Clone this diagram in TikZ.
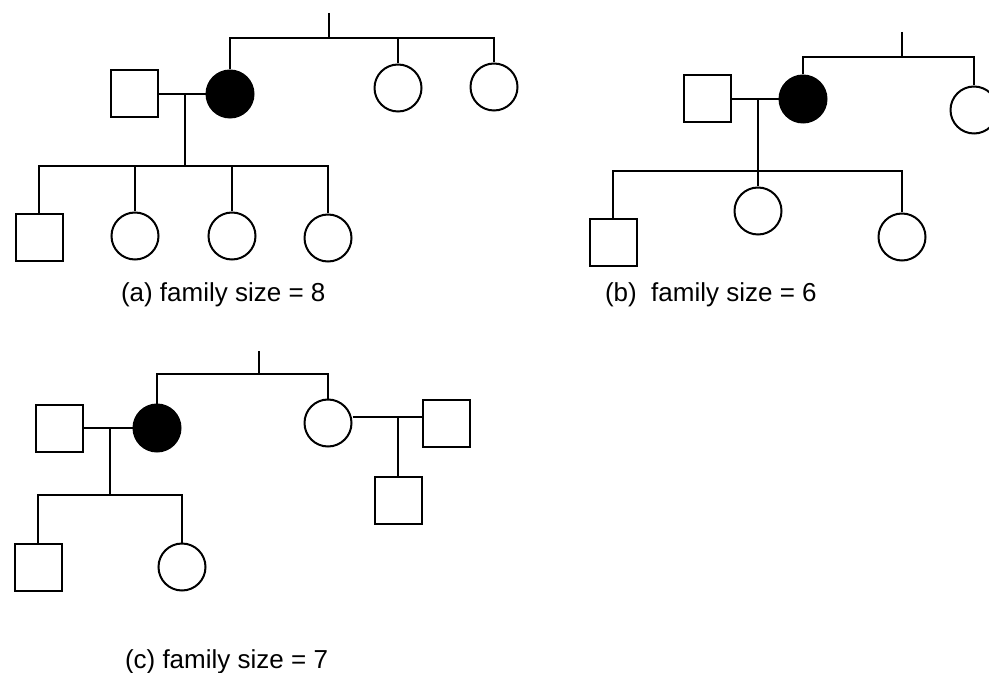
\documentclass[tikz,border=0pt]{standalone}
\usepackage{fontspec}
\setmainfont{Liberation Sans}

\begin{document}
\begin{tikzpicture}[
        x=0.5pt, y=-0.5pt,
        line width=1pt,
        male/.style={draw, rectangle, minimum size=23.5pt, inner sep=0pt},
        female/.style={draw, circle, minimum size=23.5pt, inner sep=0pt},
        affected/.style={fill=black},
        caption/.style={anchor=base west, inner sep=0pt, font=\fontsize{13}{15}\selectfont}
    ]
        \useasboundingbox (0,0) rectangle (989,673);
        \clip (0,0) rectangle (989,673);

        \node[male] (a-f) at (134,94) {};
        \node[female, affected] (a-m) at (230,94) {};
        \node[female] (a-s1) at (398,88) {};
        \node[female] (a-s2) at (494,87) {};
        \node[male] (a-c1) at (39,238) {};
        \node[female] (a-c2) at (135,236) {};
        \node[female] (a-c3) at (232,236) {};
        \node[female] (a-c4) at (328,238) {};
        \coordinate (a-gp) at (329,13);
        \coordinate (a-sib) at (329,38);
        \coordinate (a-mar) at (185,94);
        \coordinate (a-kids) at (185,166);
        \draw (a-gp) -- (a-sib);
        \draw (a-m.north) -- (a-m.north |- a-sib) -- (a-s2.north |- a-sib) -- (a-s2.north);
        \draw (a-s1.north |- a-sib) -- (a-s1.north);
        \draw (a-f) -- (a-m);
        \draw (a-mar) -- (a-kids);
        \draw (a-c1.north) -- (a-c1.north |- a-kids) -- (a-c4.north |- a-kids) -- (a-c4.north);
        \draw (a-c2.north |- a-kids) -- (a-c2.north);
        \draw (a-c3.north |- a-kids) -- (a-c3.north);
        \node[caption] (a-cap) at (120,301) {(a) family size = 8};

        \node[male] (b-f) at (707,99) {};
        \node[female, affected] (b-m) at (803,99) {};
        \node[female] (b-s1) at (974,110) {};
        \node[male] (b-c1) at (613,243) {};
        \node[female] (b-c2) at (758,211) {};
        \node[female] (b-c3) at (902,237) {};
        \coordinate (b-gp) at (902,32);
        \coordinate (b-sib) at (902,57);
        \coordinate (b-mar) at (758,99);
        \coordinate (b-kids) at (758,171);
        \draw (b-gp) -- (b-sib);
        \draw (b-m.north) -- (b-m.north |- b-sib) -- (b-s1.north |- b-sib) -- (b-s1.north);
        \draw (b-f) -- (b-m);
        \draw (b-mar) -- (b-c2.north);
        \draw (b-c1.north) -- (b-c1.north |- b-kids) -- (b-c3.north |- b-kids) -- (b-c3.north);
        \node[caption] (b-cap) at (604,301) {(b)~ family size = 6};

        \node[male] (c-f) at (59,428) {};
        \node[female, affected] (c-m) at (157,428) {};
        \node[female] (c-a) at (328,423) {};
        \node[male] (c-u) at (446,423) {};
        \node[male] (c-c1) at (38,567) {};
        \node[female] (c-c2) at (182,567) {};
        \node[male] (c-k) at (398,500) {};
        \coordinate (c-gp) at (259,351);
        \coordinate (c-sib) at (259,374);
        \coordinate (c-mar) at (110,428);
        \coordinate (c-kids) at (110,495);
        \coordinate (c-mar2) at (398,417);
        \draw (c-gp) -- (c-sib);
        \draw (c-m.north) -- (c-m.north |- c-sib) -- (c-a.north |- c-sib) -- (c-a.north);
        \draw (c-f) -- (c-m);
        \draw (c-mar) -- (c-kids);
        \draw (c-c1.north) -- (c-c1.north |- c-kids) -- (c-c2.north |- c-kids) -- (c-c2.north);
        \draw ([yshift=3pt]c-a.east) -- ([yshift=3pt]c-u.west);
        \draw (c-mar2) -- (c-k.north);
        \node[caption] (c-cap) at (124,668) {(c) family size = 7};
    \end{tikzpicture}
\end{document}
